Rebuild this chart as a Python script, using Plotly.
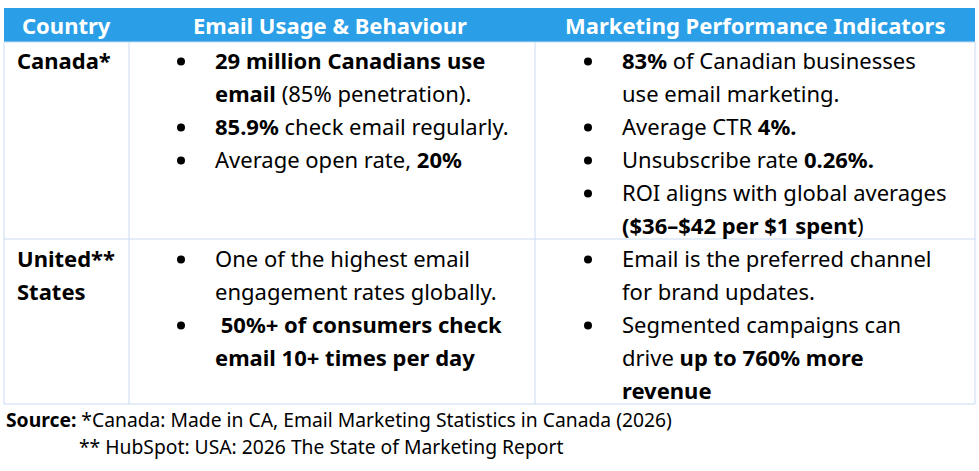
import plotly.graph_objects as go

W, H = 979, 471
FONT = "Noto Sans"
FS = 22

headers = ["Country", "Email Usage & Behaviour", "Marketing Performance Indicators"]
header_x = [66, 330, 755]

countries = [["<b>Canada*</b>"], ["<b>United**</b>", "<b>States</b>"]]

# each cell: list of bullet items, each item a list of lines
usage = [
    [["<b>29 million Canadians use</b>", "<b>email</b> (85% penetration)."],
     ["<b>85.9%</b> check email regularly."],
     ["Average open rate, <b>20%</b>"]],
    [["One of the highest email", "engagement rates globally."],
     ["<b> 50%+ of consumers check</b>", "<b>email 10+ times per day</b>"]],
]
marketing = [
    [["<b>83%</b> of Canadian businesses", "use email marketing."],
     ["Average CTR <b>4%.</b>"],
     ["Unsubscribe rate <b>0.26%.</b>"],
     ["ROI aligns with global averages", "<b>($36–$42 per $1 spent</b>)"]],
    [["Email is the preferred channel", "for brand updates."],
     ["Segmented campaigns can", "drive <b>up to 760% more</b>", "<b>revenue</b>"]],
]
sources = ["<b>Source:</b> *Canada: Made in CA, Email Marketing Statistics in Canada (2026)",
           "** HubSpot: USA: 2026 The State of Marketing Report"]

# layout geometry (pixels)
col_edges = [4, 129, 535, 975]
row_edges = [8, 42, 239, 404]
first_line_y = [60, 258]
line_step = 33
country_x = 15
bullet_x = [181, 588]
text_x = [213, 620]
source_pos = [(4, 419), (77, 446)]

HEADER_BLUE = "#2A9FE8"
BORDER = "#C9DAF0"

shapes = []
annotations = []
bx, by = [], []

# header background
shapes.append(dict(type="rect", x0=col_edges[0], x1=col_edges[-1], y0=row_edges[0], y1=row_edges[1],
                   fillcolor=HEADER_BLUE, line=dict(width=0), layer="below"))
# horizontal borders (below header)
for y in row_edges[1:]:
    shapes.append(dict(type="line", x0=col_edges[0], x1=col_edges[-1], y0=y, y1=y,
                       line=dict(color=BORDER, width=1)))
# vertical borders
for x in col_edges:
    shapes.append(dict(type="line", x0=x, x1=x, y0=row_edges[1], y1=row_edges[-1],
                       line=dict(color=BORDER, width=1)))

for t, x in zip(headers, header_x):
    annotations.append(dict(x=x, y=(row_edges[0] + row_edges[1]) / 2, text=f"<b>{t}</b>",
                            xanchor="center", yanchor="middle", showarrow=False,
                            font=dict(family=FONT, size=FS, color="white")))

for r in range(2):
    y0 = first_line_y[r]
    for i, line in enumerate(countries[r]):
        annotations.append(dict(x=country_x, y=y0 + i * line_step, text=line, xanchor="left",
                                yanchor="middle", showarrow=False,
                                font=dict(family=FONT, size=FS, color="black")))
    for c, cell in enumerate([usage[r], marketing[r]]):
        k = 0
        for item in cell:
            bx.append(bullet_x[c])
            by.append(y0 + k * line_step + 1.5)
            for line in item:
                annotations.append(dict(x=text_x[c], y=y0 + k * line_step, text=line, xanchor="left",
                                        yanchor="middle", showarrow=False,
                                        font=dict(family=FONT, size=FS, color="black")))
                k += 1

for s, (x, y) in zip(sources, source_pos):
    annotations.append(dict(x=x, y=y, text=s, xanchor="left", yanchor="middle", showarrow=False,
                            font=dict(family=FONT, size=19.3, color="black")))

fig = go.Figure(go.Scatter(x=bx, y=by, mode="markers", hoverinfo="skip",
                           marker=dict(size=8, color="black", line=dict(width=0))))
fig.update_layout(
    width=W, height=H, margin=dict(l=0, r=0, t=0, b=0),
    paper_bgcolor="white", plot_bgcolor="white",
    xaxis=dict(range=[0, W], visible=False, fixedrange=True),
    yaxis=dict(range=[H, 0], visible=False, fixedrange=True),
    shapes=shapes, annotations=annotations, showlegend=False,
)
fig.write_html("out.html", config={"displayModeBar": False},
               post_script="document.body.style.margin='0';document.body.style.overflow='hidden';")
